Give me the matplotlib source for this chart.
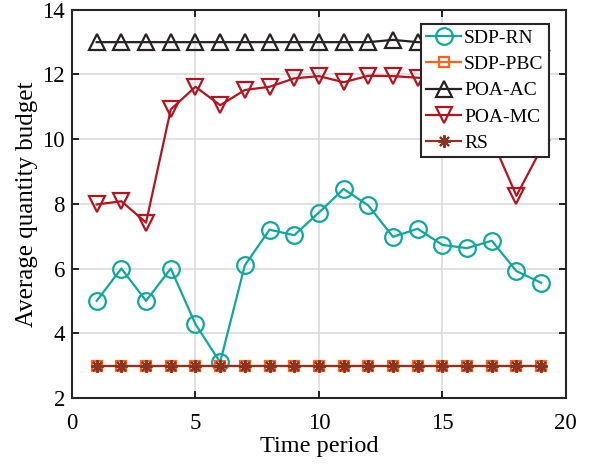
import matplotlib.pyplot as plt
import numpy as np

plt.rcParams['font.family'] = ['Liberation Serif', 'DejaVu Serif']

periods = np.arange(1, 20)

sdp_rn = [5.0, 6.0, 5.0, 6.0, 4.28, 3.1, 6.1, 7.2, 7.03, 7.73, 8.46, 7.95,
          6.98, 7.23, 6.73, 6.63, 6.86, 5.92, 5.56]
sdp_pbc = [3.0] * 19
poa_ac = [13.0, 13.0, 13.0, 13.0, 13.0, 13.0, 13.0, 13.0, 13.0, 13.0, 13.0,
          13.0, 13.07, 13.0, 13.0, 13.0, 13.0, 13.0, 13.0]
poa_mc = [7.98, 8.08, 7.42, 10.92, 11.62, 11.05, 11.52, 11.62, 11.88, 11.95,
          11.76, 11.96, 11.95, 11.9, 11.85, 11.5, 10.0, 8.25, 9.7]
rs = [3.0] * 19

labels = ['SDP-RN', 'SDP-PBC', 'POA-AC', 'POA-MC', 'RS']

fig = plt.figure(figsize=(5.95, 4.67), dpi=100)
ax = fig.add_axes([0.121, 0.148, 0.830, 0.831])

ax.plot(periods, sdp_rn, color='#10a89c', marker='o', ms=12, mfc='none',
        mew=1.6, lw=1.6, label=labels[0])
ax.plot(periods, sdp_pbc, color='#ff6418', marker='s', ms=7, mfc='none',
        mew=1.6, lw=1.6, label=labels[1])
ax.plot(periods, poa_ac, color='#262322', marker='^', ms=12, mfc='none',
        mew=1.6, lw=1.6, label=labels[2])
ax.plot(periods, poa_mc, color='#b2151f', marker='v', ms=12, mfc='none',
        mew=1.6, lw=1.6, label=labels[3])
ax.plot(periods, rs, color='#8a3421', marker=(8, 2, 0), ms=9,
        mew=1.5, lw=1.6, label=labels[4])

ax.set_xlim(0, 20)
ax.set_ylim(2, 14)
ax.set_xticks([0, 5, 10, 15, 20])
ax.set_yticks([2, 4, 6, 8, 10, 12, 14])
ax.grid(True, color='#dcdcdc', lw=1.2)
ax.set_axisbelow(True)
ax.tick_params(direction='in', top=True, right=True, labelsize=16.5,
               length=5, width=1.2, pad=5)
ax.tick_params(axis='x', pad=11)
for s in ax.spines.values():
    s.set_linewidth(1.5)
    s.set_color('#262626')

ax.set_xlabel('Time period', fontsize=17.5, labelpad=1)
ax.set_ylabel('Average quantity budget', fontsize=18, labelpad=3)

leg = ax.legend(loc='upper right', bbox_to_anchor=(0.965, 0.963),
                fontsize=14, frameon=True, fancybox=False, labelspacing=0.45,
                handlelength=1.8, handletextpad=0.15, borderpad=0.25,
                borderaxespad=0)
leg.get_frame().set_edgecolor('#262626')
leg.get_frame().set_linewidth(1.5)
leg.get_frame().set_alpha(1)

fig.savefig('out.png', dpi=100)
